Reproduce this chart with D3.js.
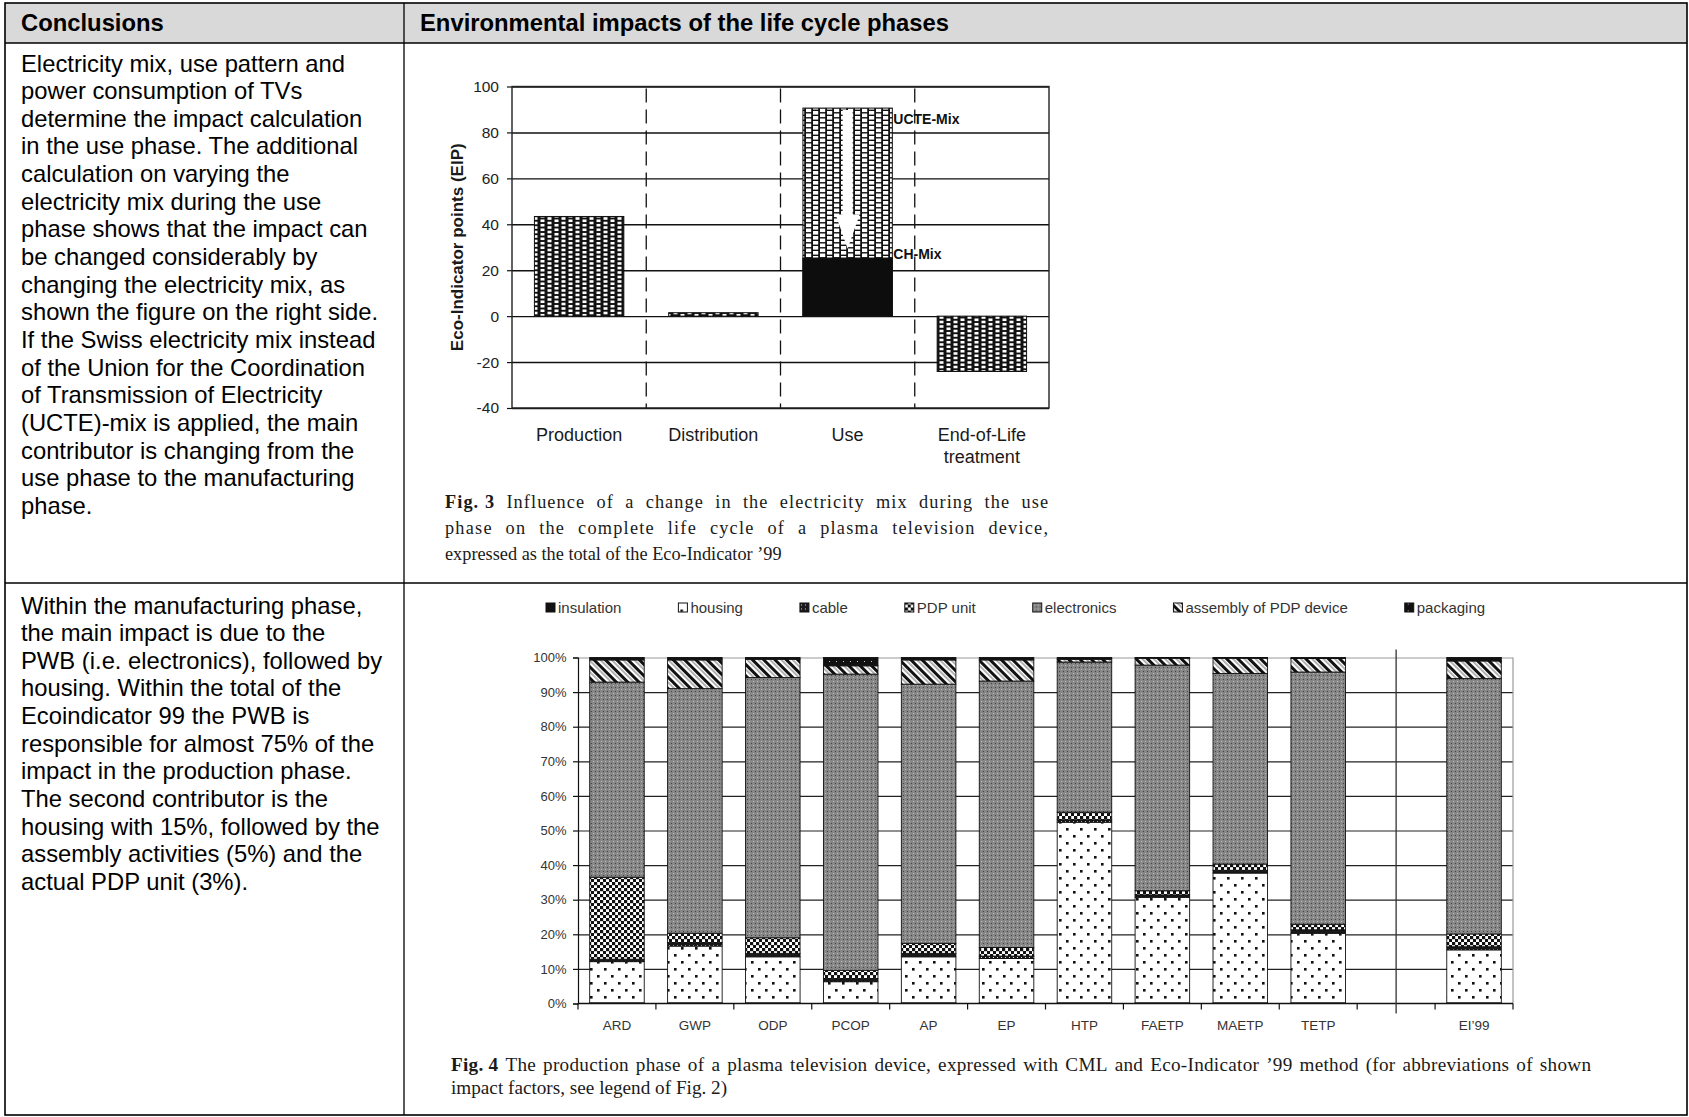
<!DOCTYPE html>
<html>
<head>
<meta charset="utf-8">
<script src="https://cdn.jsdelivr.net/npm/d3@7"></script>
<style>
    html, body { margin: 0; padding: 0; background: #fff; }
    svg { display: block; }
    text { font-family: 'Liberation Sans', Arial, sans-serif; }
    text.serif { font-family: 'Liberation Serif', 'Times New Roman', serif; }
</style>
</head>
<body>
<div id="page"></div>
<script>
// ---- data ----
const HEADERS = ['Conclusions', 'Environmental impacts of the life cycle phases'];

const USE_PHASE_TEXT = [
    'Electricity mix, use pattern and',
    'power consumption of TVs',
    'determine the impact calculation',
    'in the use phase. The additional',
    'calculation on varying the',
    'electricity mix during the use',
    'phase shows that the impact can',
    'be changed considerably by',
    'changing the electricity mix, as',
    'shown the figure on the right side.',
    'If the Swiss electricity mix instead',
    'of the Union for the Coordination',
    'of Transmission of Electricity',
    '(UCTE)-mix is applied, the main',
    'contributor is changing from the',
    'use phase to the manufacturing',
    'phase.'
];

const PRODUCTION_TEXT = [
    'Within the manufacturing phase,',
    'the main impact is due to the',
    'PWB (i.e. electronics), followed by',
    'housing. Within the total of the',
    'Ecoindicator 99 the PWB is',
    'responsible for almost 75% of the',
    'impact in the production phase.',
    'The second contributor is the',
    'housing with 15%, followed by the',
    'assembly activities (5%) and the',
    'actual PDP unit (3%).'
];

// Fig. 3
const PHASES = ['Production', 'Distribution', 'Use', 'End-of-Life\ntreatment'];
const PHASE_EIP = [43.4, 1.5, 90.6, -24.1];      // use phase with UCTE-Mix
const USE_CH_MIX_EIP = 25.3;
const MIX_LABELS = ['UCTE-Mix', 'CH-Mix'];
const EIP_TICKS = [-40, -20, 0, 20, 40, 60, 80, 100];
const EIP_TITLE = 'Eco-Indicator points (EIP)';
const FIG3_CAPTION = [
    'Fig. 3 Influence of a change in the electricity mix during the use',
    'phase on the complete life cycle of a plasma television device,',
    'expressed as the total of the Eco-Indicator \u201999'
];

// Fig. 4  (shares in %, '' column is the empty slot before EI'99)
const IMPACTS = ['ARD', 'GWP', 'ODP', 'PCOP', 'AP', 'EP', 'HTP', 'FAETP', 'MAETP', 'TETP', '', 'EI\u201999'];
const COMPONENTS = ['insulation', 'housing', 'cable', 'PDP unit', 'electronics', 'assembly of PDP device', 'packaging'];
const INSULATION  = [0.2, 0.2, 0.2, 0.2, 0.2, 0.2, 0.2, 0.2, 0.2, 0.2, 0, 0.2];
const HOUSING     = [11.9, 16.4, 13.3, 6.1, 13.3, 12.8, 52.2, 30.5, 37.5, 20.1, 0, 15.3];
const CABLE       = [0.7, 1.0, 1.0, 0.9, 1.0, 0.7, 0.7, 0.7, 0.8, 1.0, 0, 0.9];
const PDP_UNIT    = [23.7, 2.7, 4.5, 2.4, 2.9, 2.5, 2.2, 1.2, 1.8, 1.6, 0, 3.7];
const ELECTRONICS = [56.4, 70.7, 75.2, 85.6, 74.9, 77.0, 43.4, 65.2, 55.1, 72.9, 0, 73.8];
const ASSEMBLY    = [6.4, 8.3, 5.3, 2.4, 7.0, 6.1, 0.8, 2.0, 4.4, 3.9, 0, 5.1];
const PACKAGING   = [0.7, 0.7, 0.5, 2.4, 0.7, 0.7, 0.5, 0.2, 0.2, 0.3, 0, 1.0];
const SHARE_TICKS = [0, 10, 20, 30, 40, 50, 60, 70, 80, 90, 100];
const FIG4_CAPTION = [
    'Fig. 4 The production phase of a plasma television device, expressed with CML and Eco-Indicator \u201999 method (for abbreviations of shown',
    'impact factors, see legend of Fig. 2)'
];

// ---- layout ----
const CONFIG = {
    W: 1689, H: 1117,
    TABLE: { LEFT: 5, RIGHT: 1687, TOP: 3, HEAD: 43, SPLIT: 583, BOTTOM: 1115, COL: 404, PAD: 21 },
    BODY: { SIZE: 23.8, LH: 27.65, Y1: 71.5, Y2: 613.5, HEAD_Y: 30.6 },
    F3: { LEFT: 512, RIGHT: 1049, TOP: 86.5, BOTTOM: 408, LABEL_Y: 440.5,
          CAP_X: 445, CAP_W: 603, CAP_Y: 508, CAP_LH: 25.8, CAP_SIZE: 18.3 },
    F4: { LEFT: 578, RIGHT: 1513, TOP: 657.5, BOTTOM: 1003.5, LABEL_Y: 1029.5,
          LEGEND_X: 546, LEGEND_Y: 607.5, LEGEND_GAP: 57,
          CAP_X: 451, CAP_W: 1140, CAP_Y: 1071, CAP_LH: 22.8, CAP_SIZE: 19.2 },
    WORD_SHARE: 0.65    // part of the justification slack put between words
};

const FILLS = {
    'insulation': '#111',
    'housing': 'url(#dotsSparse)',
    'cable': 'url(#cableDark)',
    'PDP unit': 'url(#checker)',
    'electronics': 'url(#greyDots)',
    'assembly of PDP device': 'url(#hatch)',
    'packaging': 'url(#packDots)'
};

// ---- helpers ----
function addPattern(defs, id, w, h, bg) {
    const p = defs.append('pattern')
        .attr('id', id)
        .attr('patternUnits', 'userSpaceOnUse')
        .attr('width', w)
        .attr('height', h);
    p.append('rect').attr('width', w).attr('height', h).attr('fill', bg);
    return p;
}

function addCells(p, list, fill) {
    list.forEach(c => {
        p.append('rect')
            .attr('x', c[0]).attr('y', c[1])
            .attr('width', c[2]).attr('height', c[3])
            .attr('fill', fill);
    });
}

function buildPatterns(defs) {
    let p = addPattern(defs, 'brickDark', 14, 9, '#111');
    addCells(p, [[1.5, 1.2, 4, 2.6], [1.5, 5.7, 4, 2.6], [8.5, 3.45, 4, 2.6], [8.5, 7.95, 4, 2.6], [8.5, -1.05, 4, 2.6]], '#fff');

    p = addPattern(defs, 'brickLight', 14, 10, '#111');
    addCells(p, [[1, 1, 5.2, 3.6], [1, 6, 5.2, 3.6], [8, 3.5, 5.2, 3.6], [8, 8.5, 5.2, 3.6], [8, -1.5, 5.2, 3.6]], '#fff');

    p = addPattern(defs, 'dotsSparse', 14, 14, '#fff');
    addCells(p, [[2, 2, 2.6, 2.6], [9, 9, 2.6, 2.6]], '#111');

    p = addPattern(defs, 'cableDark', 4, 4, '#1a1a1a');
    addCells(p, [[1, 1, 1, 1]], '#ddd');

    p = addPattern(defs, 'checker', 6, 6, '#fff');
    addCells(p, [[0, 0, 3.2, 3.2], [3, 3, 3.2, 3.2]], '#111');

    p = addPattern(defs, 'greyDots', 4, 4, '#868686');
    addCells(p, [[1, 1, 1, 1]], '#bdbdbd');
    addCells(p, [[3, 3, 1, 1]], '#444');

    p = addPattern(defs, 'hatch', 8, 8, '#fff')
        .attr('patternTransform', 'rotate(-45)');
    addCells(p, [[0, 0, 3, 8]], '#111');
    addCells(p, [[5, 0, 1.8, 8]], '#aaa');

    p = addPattern(defs, 'packDots', 7, 7, '#111');
    addCells(p, [[3, 3, 1, 1]], '#ccc');
}

// justified caption: the slack is split between word gaps and letter gaps
function drawParagraph(parent, lines, o) {
    lines.forEach((line, i) => {
        const tokens = [];
        let rest = line;
        if (i === 0 && o.bold && line.startsWith(o.bold)) {
            tokens.push({ t: o.bold, b: true });
            rest = line.slice(o.bold.length).trim();
        }
        rest.split(' ').forEach(w => tokens.push({ t: w, b: false }));

        const y = o.y + i * o.lh;
        const nodes = tokens.map(tk => parent.append('text')
            .attr('class', 'serif')
            .attr('y', y)
            .attr('font-size', o.size)
            .attr('font-weight', tk.b ? 'bold' : 'normal')
            .attr('fill', '#1a1a1a')
            .text(tk.t));
        const widths = nodes.map(n => n.node().getComputedTextLength());
        const space = o.size * 0.25;
        const natural = d3.sum(widths) + space * (tokens.length - 1);

        let perLetter = 0, perWord = 0;
        if (i < lines.length - 1) {
            const slack = o.width - natural;
            const letterSlots = d3.sum(tokens, tk => tk.t.length - 1);
            perWord = slack * CONFIG.WORD_SHARE / (tokens.length - 1);
            perLetter = slack * (1 - CONFIG.WORD_SHARE) / letterSlots;
        }
        let x = o.x;
        nodes.forEach((n, j) => {
            const len = tokens[j].t.length;
            n.attr('x', x);
            if (perLetter !== 0) n.attr('letter-spacing', perLetter);
            x += widths[j] + perLetter * (len - 1) + space + perWord;
        });
    });
}

// ---- table with the two text cells ----
class Table {
    constructor(svg) {
        this.ROOT = svg.append('g');
    }

    draw() {
        const T = CONFIG.TABLE, B = CONFIG.BODY;
        this.ROOT.append('rect')
            .attr('x', T.LEFT).attr('y', T.TOP)
            .attr('width', T.RIGHT - T.LEFT).attr('height', T.HEAD - T.TOP)
            .attr('fill', '#d9d9d9');

        const lines = [
            [T.LEFT, T.HEAD, T.RIGHT, T.HEAD],
            [T.LEFT, T.SPLIT, T.RIGHT, T.SPLIT],
            [T.COL, T.TOP, T.COL, T.BOTTOM]
        ];
        this.ROOT.selectAll('line.grid')
            .data(lines)
            .join('line')
            .attr('x1', d => d[0]).attr('y1', d => d[1])
            .attr('x2', d => d[2]).attr('y2', d => d[3])
            .attr('stroke', '#000')
            .attr('stroke-width', 1.3);

        this.ROOT.append('rect')
            .attr('x', T.LEFT).attr('y', T.TOP)
            .attr('width', T.RIGHT - T.LEFT).attr('height', T.BOTTOM - T.TOP)
            .attr('fill', 'none')
            .attr('stroke', '#000')
            .attr('stroke-width', 1.6);

        this.ROOT.selectAll('text.head')
            .data(HEADERS)
            .join('text')
            .attr('x', (d, i) => (i === 0 ? T.LEFT : T.COL) + T.PAD - 5)
            .attr('y', B.HEAD_Y)
            .attr('font-size', B.SIZE)
            .attr('font-weight', 'bold')
            .text(d => d);

        this.body(USE_PHASE_TEXT, B.Y1);
        this.body(PRODUCTION_TEXT, B.Y2);
    }

    body(lines, y0) {
        const T = CONFIG.TABLE, B = CONFIG.BODY;
        this.ROOT.append('g')
            .selectAll('text')
            .data(lines)
            .join('text')
            .attr('x', T.LEFT + T.PAD - 5)
            .attr('y', (d, i) => y0 + i * B.LH)
            .attr('font-size', B.SIZE)
            .attr('fill', '#000')
            .text(d => d);
    }
}

// ---- Fig. 3 ----
class PhaseChart {
    constructor(svg) {
        const C = CONFIG.F3;
        this.ROOT = svg.append('g');
        this.x = d3.scaleBand().domain(PHASES).range([C.LEFT, C.RIGHT]);
        this.y = d3.scaleLinear().domain([d3.min(EIP_TICKS), d3.max(EIP_TICKS)]).range([C.BOTTOM, C.TOP]);
    }

    draw() {
        const C = CONFIG.F3, x = this.x, y = this.y;
        const w = C.RIGHT - C.LEFT;

        // gridlines
        this.ROOT.append('g')
            .attr('transform', `translate(${C.LEFT},0)`)
            .call(d3.axisLeft(y).tickValues(EIP_TICKS).tickSize(-w).tickFormat(''))
            .call(g => g.select('.domain').remove())
            .selectAll('line').attr('stroke', '#111').attr('stroke-width', 1.4);

        // ticks + labels (plain hyphen for negatives)
        this.ROOT.append('g')
            .attr('transform', `translate(${C.LEFT},0)`)
            .call(d3.axisLeft(y).tickValues(EIP_TICKS).tickSize(5).tickPadding(8).tickFormat(d => String(d)))
            .call(g => g.select('.domain').remove())
            .call(g => g.selectAll('line').attr('stroke', '#111').attr('stroke-width', 1.2))
            .call(g => g.selectAll('text')
                .attr('font-size', 15.5)
                .attr('font-family', "'Liberation Sans', Arial, sans-serif")
                .attr('fill', '#222'));

        // dashed phase separators
        this.ROOT.selectAll('line.sep')
            .data(PHASES.slice(1))
            .join('line')
            .attr('x1', d => x(d)).attr('x2', d => x(d))
            .attr('y1', C.TOP + 2).attr('y2', C.BOTTOM)
            .attr('stroke', '#111')
            .attr('stroke-width', 1.3)
            .attr('stroke-dasharray', '14,7');

        const barX = d => x(d) + x.bandwidth() * 0.167;
        const barW = x.bandwidth() * 0.666;
        const values = PHASES.map((p, i) => ({ phase: p, v: PHASE_EIP[i] }));

        this.ROOT.selectAll('rect.bar')
            .data(values)
            .join('rect')
            .attr('x', d => barX(d.phase))
            .attr('width', barW)
            .attr('y', d => y(Math.max(0, d.v)))
            .attr('height', d => Math.abs(y(d.v) - y(0)))
            .attr('fill', d => d.phase === 'Use' ? 'url(#brickLight)' : 'url(#brickDark)')
            .attr('stroke', '#111')
            .attr('stroke-width', 1);

        // CH-Mix part of the use phase
        this.ROOT.append('rect')
            .attr('x', barX('Use'))
            .attr('width', barW)
            .attr('y', y(USE_CH_MIX_EIP))
            .attr('height', y(0) - y(USE_CH_MIX_EIP))
            .attr('fill', '#0d0d0d')
            .attr('stroke', '#111');

        // arrow UCTE -> CH
        const useTop = PHASE_EIP[PHASES.indexOf('Use')];
        const cx = barX('Use') + barW / 2;
        const neck = y(USE_CH_MIX_EIP + 19);
        const tip = y(USE_CH_MIX_EIP + 4);
        const arrow = [
            [cx - 5, y(useTop) + 2], [cx + 5, y(useTop) + 2],
            [cx + 5, neck], [cx + 12, neck],
            [cx, tip],
            [cx - 12, neck], [cx - 5, neck]
        ];
        this.ROOT.append('path')
            .attr('d', d3.line()(arrow) + 'Z')
            .attr('fill', '#fff');

        // mix labels
        const lx = barX('Use') + barW + 1;
        this.ROOT.selectAll('text.mix')
            .data([[MIX_LABELS[0], y(useTop) + 16], [MIX_LABELS[1], y(USE_CH_MIX_EIP) + 0.5]])
            .join('text')
            .attr('x', lx)
            .attr('y', d => d[1])
            .attr('font-size', 14)
            .attr('font-weight', 'bold')
            .attr('fill', '#111')
            .text(d => d[0]);

        // plot border
        this.ROOT.append('rect')
            .attr('x', C.LEFT).attr('y', C.TOP)
            .attr('width', w).attr('height', C.BOTTOM - C.TOP)
            .attr('fill', 'none')
            .attr('stroke', '#222')
            .attr('stroke-width', 1.4);

        // category labels
        this.ROOT.selectAll('text.cat')
            .data(PHASES)
            .join('text')
            .attr('text-anchor', 'middle')
            .attr('font-size', 18)
            .attr('fill', '#1a1a1a')
            .each(function (d) {
                d.split('\n').forEach((part, i) => {
                    d3.select(this).append('tspan')
                        .attr('x', x(d) + x.bandwidth() / 2)
                        .attr('y', C.LABEL_Y + i * 22.5)
                        .text(part);
                });
            });

        // axis title
        this.ROOT.append('text')
            .attr('transform', `translate(${C.LEFT - 49},${(C.TOP + C.BOTTOM) / 2}) rotate(-90)`)
            .attr('text-anchor', 'middle')
            .attr('font-size', 17)
            .attr('font-weight', 'bold')
            .attr('fill', '#1a1a1a')
            .text(EIP_TITLE);

        drawParagraph(this.ROOT, FIG3_CAPTION, {
            x: C.CAP_X, y: C.CAP_Y, width: C.CAP_W, lh: C.CAP_LH, size: C.CAP_SIZE, bold: 'Fig. 3'
        });
    }
}

// ---- Fig. 4 ----
class ShareChart {
    constructor(svg) {
        const C = CONFIG.F4;
        this.ROOT = svg.append('g');
        this.x = d3.scaleBand().domain(IMPACTS).range([C.LEFT, C.RIGHT]);
        this.y = d3.scaleLinear().domain([0, 100]).range([C.BOTTOM, C.TOP]);

        const series = [INSULATION, HOUSING, CABLE, PDP_UNIT, ELECTRONICS, ASSEMBLY, PACKAGING];
        this.table = IMPACTS.map((k, i) => {
            const row = { impact: k };
            COMPONENTS.forEach((c, j) => { row[c] = series[j][i]; });
            return row;
        });
        this.stack = d3.stack().keys(COMPONENTS)(this.table);
    }

    draw() {
        const C = CONFIG.F4, x = this.x, y = this.y;
        const w = C.RIGHT - C.LEFT;

        // gridlines (10..90 dark, 100 grey)
        this.ROOT.append('g')
            .attr('transform', `translate(${C.LEFT},0)`)
            .call(d3.axisLeft(y).tickValues(SHARE_TICKS.slice(1)).tickSize(-w).tickFormat(''))
            .call(g => g.select('.domain').remove())
            .selectAll('line')
            .attr('stroke', d => d === 100 ? '#9a9a9a' : '#222')
            .attr('stroke-width', 1.2);

        // right border
        this.ROOT.append('line')
            .attr('x1', C.RIGHT).attr('x2', C.RIGHT)
            .attr('y1', C.TOP).attr('y2', C.BOTTOM)
            .attr('stroke', '#9a9a9a')
            .attr('stroke-width', 1.2);

        // stacked bars
        const barW = x.bandwidth() * 0.7;
        const layers = this.ROOT.append('g')
            .selectAll('g')
            .data(this.stack)
            .join('g')
            .attr('fill', d => FILLS[d.key]);
        layers.selectAll('rect')
            .data(d => d.filter(s => s.data.impact !== '' && s[1] > s[0]))
            .join('rect')
            .attr('x', d => x(d.data.impact) + (x.bandwidth() - barW) / 2)
            .attr('width', barW)
            .attr('y', d => y(d[1]))
            .attr('height', d => y(d[0]) - y(d[1]))
            .attr('stroke', '#111')
            .attr('stroke-width', 0.9);

        // left axis
        this.ROOT.append('g')
            .attr('transform', `translate(${C.LEFT},0)`)
            .call(d3.axisLeft(y).tickValues(SHARE_TICKS).tickSize(5).tickPadding(6.5).tickFormat(d => d + '%'))
            .call(g => g.selectAll('line, path').attr('stroke', '#111').attr('stroke-width', 1.2))
            .call(g => g.selectAll('text')
                .attr('font-size', 13)
                .attr('font-family', "'Liberation Sans', Arial, sans-serif")
                .attr('fill', '#333'));

        // bottom axis: ticks at band edges
        const edges = IMPACTS.map(d => x(d)).concat([C.RIGHT]);
        this.ROOT.append('line')
            .attr('x1', C.LEFT).attr('x2', C.RIGHT)
            .attr('y1', C.BOTTOM).attr('y2', C.BOTTOM)
            .attr('stroke', '#111')
            .attr('stroke-width', 1.3);
        this.ROOT.selectAll('line.edge')
            .data(edges)
            .join('line')
            .attr('x1', d => d).attr('x2', d => d)
            .attr('y1', C.BOTTOM).attr('y2', C.BOTTOM + 6)
            .attr('stroke', '#111')
            .attr('stroke-width', 1.2);

        // separator before EI'99
        const gapX = x('') + x.bandwidth() / 2;
        this.ROOT.append('line')
            .attr('x1', gapX).attr('x2', gapX)
            .attr('y1', C.TOP - 8).attr('y2', C.BOTTOM + 10)
            .attr('stroke', '#333')
            .attr('stroke-width', 1.3);

        // category labels
        this.ROOT.selectAll('text.cat')
            .data(IMPACTS)
            .join('text')
            .attr('x', d => x(d) + x.bandwidth() / 2)
            .attr('y', C.LABEL_Y)
            .attr('text-anchor', 'middle')
            .attr('font-size', 13.5)
            .attr('fill', '#333')
            .text(d => d);

        this.legend();

        drawParagraph(this.ROOT, FIG4_CAPTION, {
            x: C.CAP_X, y: C.CAP_Y, width: C.CAP_W, lh: C.CAP_LH, size: C.CAP_SIZE, bold: 'Fig. 4'
        });
    }

    legend() {
        const C = CONFIG.F4;
        let cx = C.LEGEND_X;
        COMPONENTS.forEach(c => {
            const g = this.ROOT.append('g').attr('transform', `translate(${cx},${C.LEGEND_Y})`);
            g.append('rect')
                .attr('x', 0).attr('y', -4.5)
                .attr('width', 9).attr('height', 9)
                .attr('fill', FILLS[c])
                .attr('stroke', '#111')
                .attr('stroke-width', 1);
            const t = g.append('text')
                .attr('x', 12)
                .attr('y', 5.3)
                .attr('font-size', 15)
                .attr('fill', '#333')
                .text(c);
            cx += 12 + t.node().getComputedTextLength() + C.LEGEND_GAP;
        });
    }
}

const svg = d3.select('#page').append('svg')
    .attr('width', CONFIG.W)
    .attr('height', CONFIG.H);
buildPatterns(svg.append('defs'));
new Table(svg).draw();
new PhaseChart(svg).draw();
new ShareChart(svg).draw();
</script>
</body>
</html>
